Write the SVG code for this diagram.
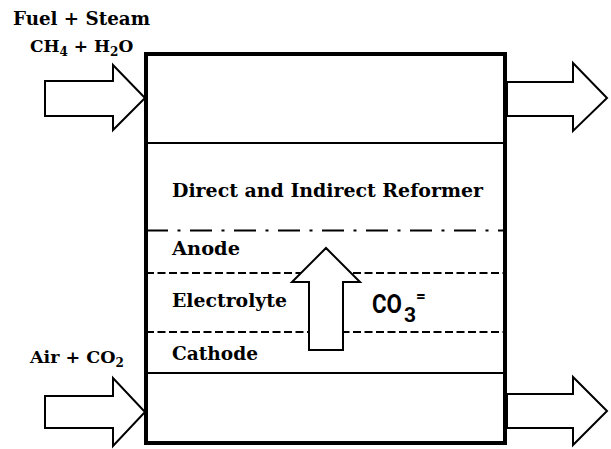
<svg xmlns="http://www.w3.org/2000/svg" width="611" height="449" viewBox="0 0 611 449">
<style>
.t{font-family:"DejaVu Serif","Liberation Serif",serif;font-weight:bold;fill:#000}
.s{font-family:Roboto,"Liberation Sans",sans-serif;font-weight:bold;fill:#000}
.arr{fill:#fff;stroke:#000;stroke-width:2;stroke-linejoin:miter}
.sep{stroke:#000;stroke-width:2;fill:none}
.dash{stroke:#000;stroke-width:2.2;fill:none;stroke-dasharray:8 3.5}
</style>
<rect width="611" height="449" fill="#fff"/>
<g id="cell">
<rect x="146" y="54" width="359" height="389" fill="none" stroke="#000" stroke-width="4"/>
<line class="sep" x1="146" y1="143" x2="505" y2="143"/>
<line class="sep" x1="146" y1="230.5" x2="505" y2="230.5" stroke-width="2.5" stroke-dasharray="22 9.5 3 9.5"/>
<line class="dash" x1="146" y1="273" x2="505" y2="273"/>
<line class="dash" x1="146" y1="332" x2="505" y2="332"/>
<line class="sep" x1="146" y1="373" x2="505" y2="373"/>
</g>
<g id="labels">
<text class="t" x="172" y="197" font-size="18.5" textLength="311" lengthAdjust="spacingAndGlyphs">Direct and Indirect Reformer</text>
<text class="t" x="172" y="255" font-size="19" textLength="68" lengthAdjust="spacingAndGlyphs">Anode</text>
<text class="t" x="172" y="307" font-size="19" textLength="115" lengthAdjust="spacingAndGlyphs">Electrolyte</text>
<text class="t" x="172" y="360" font-size="19" textLength="86" lengthAdjust="spacingAndGlyphs">Cathode</text>
<text class="s" x="372" y="313" font-size="25" textLength="30" lengthAdjust="spacingAndGlyphs">CO</text>
<text class="s" x="404" y="322" font-size="21">3</text>
<text class="s" x="416" y="302" font-size="17">=</text>
</g>
<g id="inputs">
<text class="t" x="13" y="25" font-size="18" textLength="137" lengthAdjust="spacingAndGlyphs">Fuel + Steam</text>
<text class="t" x="30" y="52" font-size="17">CH<tspan font-size="12" dy="4">4</tspan><tspan dy="-4"> + H</tspan><tspan font-size="12" dy="4">2</tspan><tspan dy="-4">O</tspan></text>
<text class="t" x="30" y="363" font-size="17.5">Air + CO<tspan font-size="12" dy="4">2</tspan></text>
</g>
<g id="connectors">
<polygon class="arr" points="45,81 113,81 113,65 145,98 113,130 113,116 45,116"/>
<polygon class="arr" points="507,82 573,82 573,63 607,98 573,131 573,116 507,116"/>
<polygon class="arr" points="45,396 113,396 113,378 145,412 113,446 113,428 45,428"/>
<polygon class="arr" points="507,394 573,394 573,377 607,411 573,445 573,428 507,428"/>
<polygon class="arr" points="309,350 309,282 292,282 326,248 360,282 343,282 343,350"/>
</g>
</svg>
